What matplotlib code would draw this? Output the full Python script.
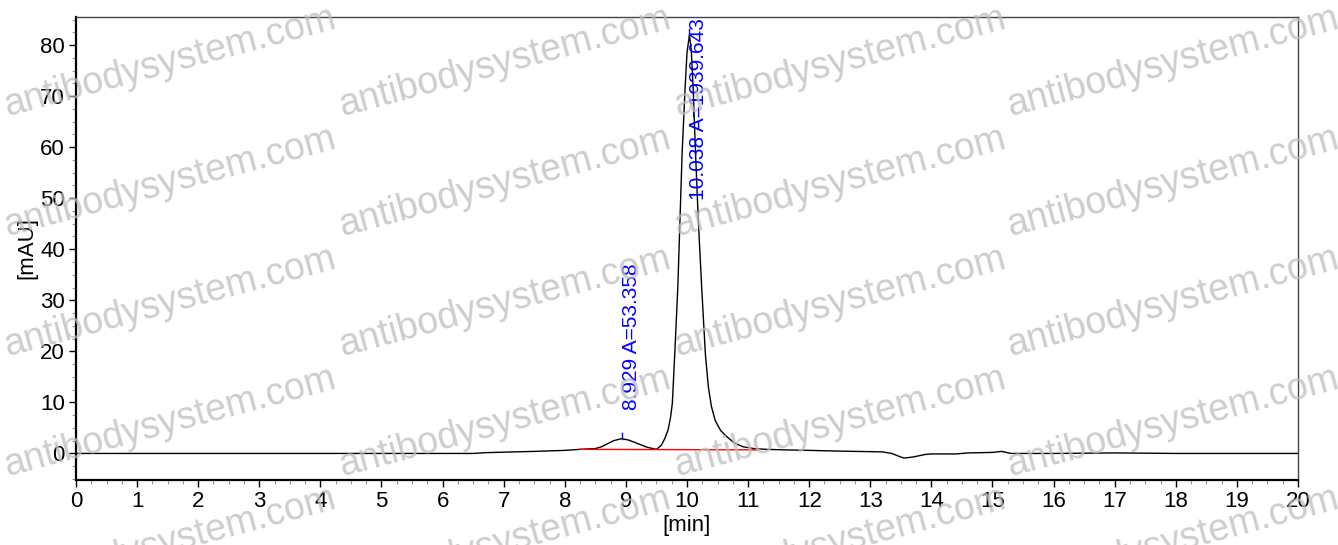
import matplotlib
matplotlib.use('Agg')
import matplotlib.pyplot as plt
from matplotlib.ticker import MultipleLocator

plt.rcParams['font.family'] = ['Liberation Sans', 'DejaVu Sans']

# chromatogram trace: time [min], signal [mAU]
time_min = [0.0, 2.0, 4.0, 6.0, 6.5, 6.7, 7.0, 7.5, 8.0, 8.25, 8.5, 8.6, 8.7,
            8.8, 8.93, 9.05, 9.2, 9.35, 9.5, 9.58, 9.64, 9.69, 9.73, 9.76,
            9.80, 9.85, 9.885, 9.92, 9.97, 10.0, 10.04, 10.07, 10.10, 10.14,
            10.185, 10.24, 10.30, 10.35, 10.40, 10.46, 10.55, 10.65, 10.78,
            10.92, 11.1, 11.3, 11.6, 12.0, 12.5, 13.0, 13.2, 13.35, 13.5,
            13.55, 13.7, 13.9, 14.0, 14.4, 14.6, 15.0, 15.15, 15.3, 16.0,
            17.0, 18.0, 20.0]
signal_mau = [0.0, 0.0, 0.0, 0.0, 0.0, 0.15, 0.25, 0.4, 0.6, 0.8, 0.95, 1.3,
              1.9, 2.5, 2.9, 2.6, 1.9, 1.2, 0.8, 1.6, 3.0, 4.6, 7.0, 9.8,
              19.6, 32.6, 45.7, 58.8, 71.8, 78.5, 82.0, 79.0, 71.8, 58.8,
              45.7, 32.6, 19.6, 13.0, 9.2, 6.5, 4.5, 3.3, 2.0, 1.3, 0.95,
              0.8, 0.7, 0.6, 0.45, 0.35, 0.3, 0.0, -0.7, -0.9, -0.7, -0.2,
              -0.1, -0.1, 0.1, 0.2, 0.4, 0.0, 0.0, 0.1, 0.0, 0.0]

# integration baseline (red)
base_t = [8.25, 11.16]
base_v = [0.8, 0.7]

# peak labels
peak_rt = [8.929, 10.038]
peak_area = [53.358, 1939.643]
peak_top = [2.9, 82.0]
label_y = [8.5, 49.6]

watermark = 'antibodysystem.com'


def main():
    fig = plt.figure(figsize=(13.38, 5.45), dpi=100)
    ax = fig.add_axes([0.0568, 0.1193, 0.9133, 0.8495])
    ax.set_facecolor('none')

    ax.plot(time_min, signal_mau, color='black', lw=1.0, zorder=3)
    ax.plot(base_t, base_v, color='red', lw=1.0, zorder=4)

    for rt, area, top, ly in zip(peak_rt, peak_area, peak_top, label_y):
        ax.plot([rt, rt], [top, top + 1.2], color='blue', lw=1.0, zorder=4)
        ax.text(rt, ly, f'{rt:.3f} A={area:.3f}', rotation=90, color='blue',
                fontsize=15, ha='left', va='bottom', clip_on=False, zorder=5)

    ax.set_xlim(0, 20)
    ax.set_ylim(-5.2, 85.5)
    ax.xaxis.set_major_locator(MultipleLocator(1))
    ax.xaxis.set_minor_locator(MultipleLocator(0.25))
    ax.yaxis.set_major_locator(MultipleLocator(10))
    ax.yaxis.set_minor_locator(MultipleLocator(2.5))
    ax.tick_params(which='major', direction='out', length=5, width=1,
                   labelsize=16, pad=3)
    ax.tick_params(which='minor', direction='out', length=3, width=0.8,
                   color='#999999')

    for side in ['left', 'bottom']:
        ax.spines[side].set_linewidth(1.6)
        ax.spines[side].set_color('black')
    for side in ['top', 'right']:
        ax.spines[side].set_linewidth(1.0)
        ax.spines[side].set_color('#444444')

    ax.set_xlabel('[min]', fontsize=16, labelpad=2)
    ax.set_ylabel('[mAU]', fontsize=16, labelpad=2)

    # watermark grid over the whole figure (bottom row is cut off, as in the source)
    for cx in [170, 505, 840, 1173]:
        for cy in [62, 182, 302, 422, 542]:
            fig.text(cx / 1338, 1 - cy / 545, watermark, fontsize=27,
                     color='#bdbdbd', alpha=0.75, rotation=15,
                     ha='center', va='center', zorder=10)

    fig.savefig('out.png', dpi=100)


if __name__ == "__main__":
    main()
